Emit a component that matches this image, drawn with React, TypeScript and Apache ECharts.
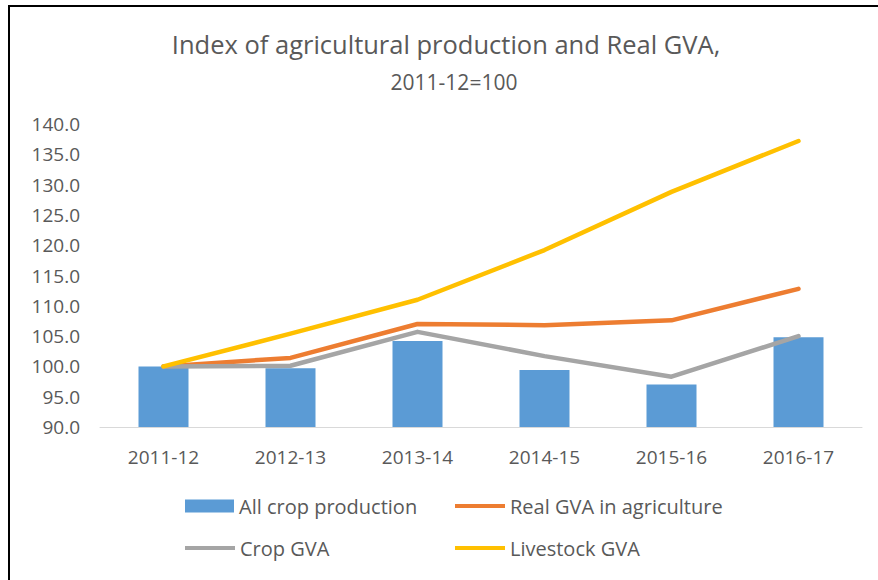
import React, { useEffect, useRef } from "react";
import * as echarts from "echarts";

const categories = ["2011-12", "2012-13", "2013-14", "2014-15", "2015-16", "2016-17"];
const allCropProduction = [100.0, 99.7, 104.2, 99.4, 97.0, 104.8];
const realGVAAgriculture = [100.0, 101.4, 107.0, 106.8, 107.6, 112.8];
const cropGVA = [100.0, 100.1, 105.7, 101.7, 98.3, 105.0];
const livestockGVA = [100.0, 105.4, 111.0, 119.2, 128.8, 137.2];

const titleText = "Index of agricultural production and Real GVA,";
const subtitleText = "2011-12=100";

const FONT = "'Open Sans', 'Noto Sans', sans-serif";
const TEXT = "#595959";

export default function App() {
  const ref = useRef<HTMLDivElement>(null);
  useEffect(() => {
    if (!ref.current) return;
    const chart = echarts.init(ref.current, undefined, { renderer: "svg" });
    const legendText = { color: TEXT, fontSize: 20, fontFamily: FONT };
    chart.setOption({
      animation: false,
      backgroundColor: "#ffffff",
      title: [
        {
          text: titleText,
          left: 441,
          top: 26,
          textAlign: "center",
          textStyle: { color: TEXT, fontSize: 25.5, fontWeight: "normal", fontFamily: FONT },
        },
        {
          text: subtitleText,
          left: 449,
          top: 66,
          textAlign: "center",
          textStyle: { color: TEXT, fontSize: 21, fontWeight: "normal", fontFamily: FONT },
        },
      ],
      grid: { left: 100, right: 16, top: 124, bottom: 153, containLabel: false },
      xAxis: {
        type: "category",
        data: categories,
        axisLine: { lineStyle: { color: "#D9D9D9", width: 1 } },
        axisTick: { show: false },
        axisLabel: { color: TEXT, fontSize: 19, fontFamily: FONT, margin: 20 },
      },
      yAxis: {
        type: "value",
        min: 90,
        max: 140,
        interval: 5,
        axisLine: { show: false },
        axisTick: { show: false },
        splitLine: { show: false },
        axisLabel: {
          color: TEXT,
          fontSize: 19,
          fontFamily: FONT,
          margin: 20,
          formatter: (v: number) => v.toFixed(1),
        },
      },
      legend: [
        {
          data: ["All crop production"],
          left: 185,
          top: 496,
          padding: 0,
          icon: "rect",
          itemWidth: 49,
          itemHeight: 13,
          textStyle: legendText,
        },
        {
          data: ["Real GVA in agriculture"],
          left: 455,
          top: 496,
          padding: 0,
          icon: "rect",
          itemWidth: 50,
          itemHeight: 4,
          textStyle: legendText,
        },
        {
          data: ["Crop GVA"],
          left: 185,
          top: 538,
          padding: 0,
          icon: "rect",
          itemWidth: 50,
          itemHeight: 4,
          textStyle: legendText,
        },
        {
          data: ["Livestock GVA"],
          left: 455,
          top: 538,
          padding: 0,
          icon: "rect",
          itemWidth: 50,
          itemHeight: 4,
          textStyle: legendText,
        },
      ],
      series: [
        {
          name: "All crop production",
          type: "bar",
          data: allCropProduction,
          barWidth: 50,
          itemStyle: { color: "#5B9BD5" },
        },
        {
          name: "Real GVA in agriculture",
          type: "line",
          data: realGVAAgriculture,
          symbol: "none",
          itemStyle: { color: "#ED7D31" },
          lineStyle: { color: "#ED7D31", width: 4.5, cap: "round", join: "round" },
        },
        {
          name: "Crop GVA",
          type: "line",
          data: cropGVA,
          symbol: "none",
          itemStyle: { color: "#A5A5A5" },
          lineStyle: { color: "#A5A5A5", width: 4.5, cap: "round", join: "round" },
        },
        {
          name: "Livestock GVA",
          type: "line",
          data: livestockGVA,
          symbol: "none",
          itemStyle: { color: "#FFC000" },
          lineStyle: { color: "#FFC000", width: 4.5, cap: "round", join: "round" },
        },
      ],
      graphic: [
        { type: "rect", shape: { x: 8, y: 5, width: 2, height: 575 }, style: { fill: "#000" }, silent: true },
        { type: "rect", shape: { x: 8, y: 5, width: 870, height: 2 }, style: { fill: "#000" }, silent: true },
      ],
    });
    return () => chart.dispose();
  }, []);
  return (
    <div style={{ position: "fixed", left: 0, top: 0, width: 878, height: 580, background: "#fff" }}>
      <div ref={ref} style={{ width: 878, height: 580 }} />
    </div>
  );
}
